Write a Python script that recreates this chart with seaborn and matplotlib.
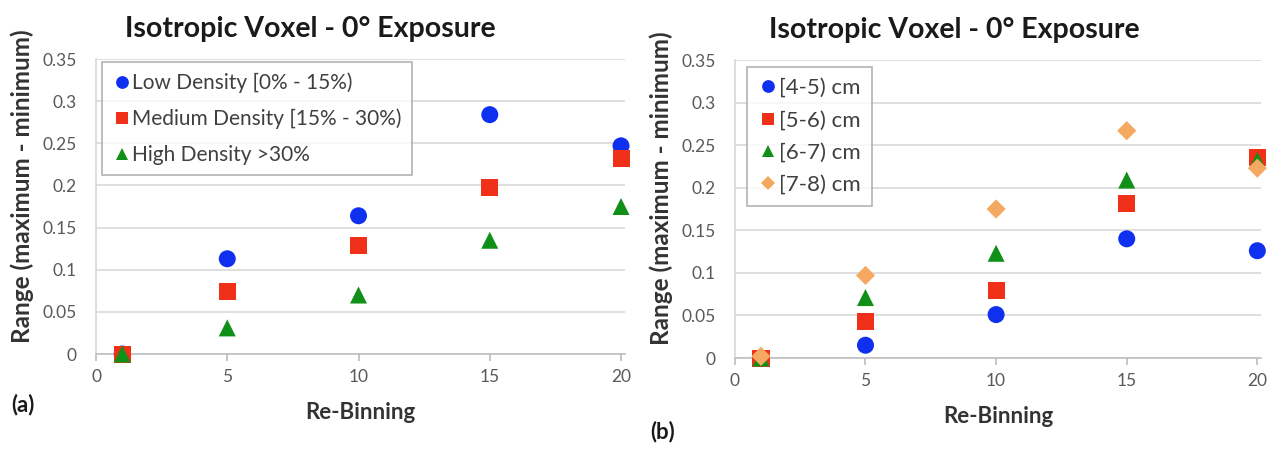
import numpy as np
import pandas as pd
import matplotlib
matplotlib.use("Agg")
import matplotlib.pyplot as plt
import seaborn as sns

rebin = [1, 5, 10, 15, 20]

# Panel (a)
density_labels = ["Low Density [0% - 15%)", "Medium Density [15% - 30%)", "High Density >30%"]
low_density = [0.0, 0.113, 0.164, 0.284, 0.247]
medium_density = [0.0, 0.074, 0.129, 0.198, 0.232]
high_density = [0.0, 0.031, 0.070, 0.135, 0.175]

# Panel (b)
size_labels = ["[4-5) cm", "[5-6) cm", "[6-7) cm", "[7-8) cm"]
size_4_5 = [0.0, 0.015, 0.051, 0.140, 0.126]
size_5_6 = [0.0, 0.043, 0.079, 0.181, 0.236]
size_6_7 = [0.0, 0.071, 0.123, 0.209, 0.232]
size_7_8 = [0.002, 0.097, 0.175, 0.267, 0.223]

title = "Isotropic Voxel - 0\u00b0 Exposure"
xlabel = "Re-Binning"
ylabel = "Range (maximum - minimum)"

sns.set_theme(style="white")
plt.rcParams['font.family'] = ['Lato', 'DejaVu Sans']

colors = ["#1030F0", "#F03018", "#109018", "#F5A860"]
markers = ["o", "s", "^", "D"]
msizes = [150, 150, 150, 95]

def long_df(labels, series):
    rows = []
    for lab, vals in zip(labels, series):
        for x, y in zip(rebin, vals):
            rows.append({"x": x, "y": y, "series": lab})
    return pd.DataFrame(rows)

W, H = 1287, 453
fig = plt.figure(figsize=(W / 100, H / 100), dpi=100)
ax1 = fig.add_axes([0.0746, 0.2185, 0.411, 0.6512])
ax2 = fig.add_axes([0.571, 0.2097, 0.409, 0.6578])

def draw(ax, labels, series, legend_box, legend_fs, legend_spacing, panel, panel_y, title_x):
    df = long_df(labels, series)
    n = len(labels)
    sns.scatterplot(data=df, x="x", y="y", hue="series", style="series", size="series",
                    palette=colors[:n],
                    markers={l: markers[i] for i, l in enumerate(labels)},
                    sizes={l: msizes[i] for i, l in enumerate(labels)},
                    hue_order=labels, style_order=labels, size_order=labels,
                    edgecolor="none", linewidth=0, ax=ax, zorder=3, clip_on=False)
    ax.set_xlim(0, 20.15)
    ax.set_ylim(0, 0.35)
    ax.set_xticks([0, 5, 10, 15, 20])
    ax.set_yticks(np.arange(0, 0.351, 0.05))
    ax.set_yticklabels(["0", "0.05", "0.1", "0.15", "0.2", "0.25", "0.3", "0.35"])
    ax.yaxis.grid(True, color="#D9D9D9", linewidth=1.2)
    ax.xaxis.grid(False)
    for s in ["top", "right"]:
        ax.spines[s].set_visible(False)
    ax.spines["left"].set_color("#D9D9D9")
    ax.spines["bottom"].set_color("#BFBFBF")
    ax.spines["bottom"].set_linewidth(1.2)
    ax.tick_params(axis="x", which="both", bottom=True, length=5, color="#BFBFBF",
                   labelsize=12.5, labelcolor="#595959", pad=6)
    ax.tick_params(axis="y", left=False, labelsize=12.5, labelcolor="#595959", pad=8)
    ax.set_xlabel(xlabel, fontsize=16, fontweight="bold", color="#333333", labelpad=12)
    ax.set_ylabel(ylabel, fontsize=17.5, fontweight="bold", color="#333333", labelpad=10)
    ax.yaxis.set_label_coords(-0.118, 0.57)
    ax.set_title(title, fontsize=20.5, fontweight="bold", color="#1a1a1a", pad=16, x=title_x)
    ax.set_axisbelow(True)
    # legend box given in pixels (x0, y0_top, x1, y1_bottom)
    x0, y0, x1, y1 = legend_box
    leg = ax.legend(loc="upper left", bbox_to_anchor=(x0 / W, 1 - y0 / H),
                    bbox_transform=fig.transFigure,
                    fontsize=legend_fs, frameon=True, fancybox=False,
                    edgecolor="#A0A0A0", handletextpad=0.05, handlelength=0.9,
                    borderpad=0.5, borderaxespad=0, labelspacing=legend_spacing,
                    markerscale=0.75)
    leg.get_frame().set_linewidth(1.2)
    for t in leg.get_texts():
        t.set_color("#404040")
    fig.text(ax.get_position().x0 - 0.066, 1 - panel_y / H, panel, fontsize=16,
             fontweight="bold", color="#1a1a1a", va="center", ha="left")

draw(ax1, density_labels, [low_density, medium_density, high_density],
     (102, 62, 405, 185), 15, 0.75, "(a)", 405, 0.405)
draw(ax2, size_labels, [size_4_5, size_5_6, size_6_7, size_7_8],
     (747, 67, 872, 220), 16, 0.55, "(b)", 432, 0.417)

fig.savefig("out.png", dpi=100)
